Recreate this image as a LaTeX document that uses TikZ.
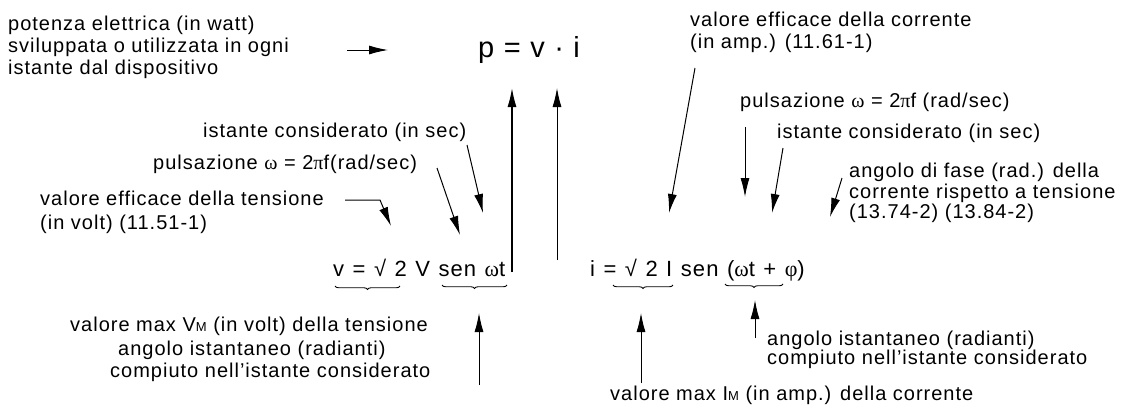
\documentclass[tikz,border=0pt]{standalone}
\usepackage{fontspec}
\setmainfont{Liberation Sans}[LetterSpace=5]
\newfontfamily\gr{Liberation Serif}
\usetikzlibrary{arrows.meta,decorations.pathreplacing}
\newcommand{\widesp}{\spaceskip=8.5pt plus 0pt\relax}
\tikzset{
  lbl/.style={anchor=base west, inner sep=0pt, font=\fontsize{20}{21}\selectfont},
  frm/.style={anchor=base west, inner sep=0pt, font=\fontsize{22}{22}\selectfont},
  arr/.style={-{Latex[length=19pt,width=9pt]}, line width=1pt},
  br/.style={decorate, decoration={brace,mirror,amplitude=3.5pt}, line width=0.9pt},
}
\newcommand{\sm}[1]{{\fontsize{13}{13}\selectfont #1}}
\begin{document}
\begin{tikzpicture}[x=1pt,y=-1pt]
\useasboundingbox (0,0) rectangle (1136,408);
% top left block
\node[lbl] (pot1) at (8,30) {potenza elettrica (in watt)};
\node[lbl] (pot2) at (8,52) {sviluppata o utilizzata in ogni};
\node[lbl] (pot3) at (8,74) {istante dal dispositivo};
\node[frm, font=\fontsize{29}{30}\selectfont] (p) at (478,57) {p = v · i};
\coordinate (pa) at (347,50); \coordinate (pb) at (388,50);
\draw[arr] (pa) -- (pb);
% top right
\node[lbl] (ec1) at (690,26) {valore efficace della corrente};
\node[lbl] (ec2) at (690,48) {(in amp.) (11.61-1)};
% left labels
\node[lbl] (ist1) at (203,137) {istante considerato (in sec)};
\node[lbl] (pul1) at (153,169) {pulsazione {\gr ω} = 2{\gr π}f(rad/sec)};
\node[lbl] (et1) at (40,205) {valore efficace della tensione};
\node[lbl] (et2) at (40,229) {(in volt) (11.51-1)};
% right labels
\node[lbl] (pul2) at (740,107) {pulsazione {\gr ω} = 2{\gr π}f (rad/sec)};
\node[lbl] (ist2) at (777,138) {istante considerato (in sec)};
\node[lbl] (fa1) at (849,177) {angolo di fase (rad.) della};
\node[lbl] (fa2) at (849,198) {corrente rispetto a tensione};
\node[lbl] (fa3) at (849,218) {(13.74-2) (13.84-2)};
% formulas
\node[frm] (fv) at (333,276) {\widesp v = √ 2 V sen {\gr ω}t};
\node[frm] (fi) at (590,276) {\widesp i = √ 2 I sen ({\gr ω}t + {\gr φ})};
% bottom labels
\node[lbl] (vm) at (70,331) {valore max V\sm{M} (in volt) della tensione};
\node[lbl] (an1) at (118,355) {angolo istantaneo (radianti)};
\node[lbl] (an2) at (110,377) {compiuto nell'istante considerato};
\node[lbl] (an3) at (767,345) {angolo istantaneo (radianti)};
\node[lbl] (an4) at (767,364) {compiuto nell'istante considerato};
\node[lbl] (im) at (610,400) {valore max I\sm{M} (in amp.) della corrente};
% braces
\draw[br] (335,286) -- (400,286);
\draw[br] (442,285) -- (507,285);
\draw[br] (613,285) -- (673,285);
\draw[br] (725,284) -- (783,284);
% long arrows to p
\coordinate (l1a) at (512,272); \coordinate (l1b) at (512,88);
\coordinate (l2a) at (557,260); \coordinate (l2b) at (557,88);
\draw[arr, line width=1.4pt] (l1a) -- (l1b);
\draw[arr] (l2a) -- (l2b);
% left arrows
\coordinate (h0) at (345,200); \coordinate (h1) at (380,200); \coordinate (h2) at (391,226);
\draw[arr] (h0) -- (h1) -- (h2);
\coordinate (q0) at (437,168); \coordinate (q1) at (460,235);
\draw[arr] (q0) -- (q1);
\coordinate (s0) at (467,145); \coordinate (s1) at (483,213);
\draw[arr] (s0) -- (s1);
% right arrows
\coordinate (e0) at (695,68); \coordinate (e1) at (669,213);
\draw[arr] (e0) -- (e1);
\coordinate (r0) at (745,127); \coordinate (r1) at (745,197);
\draw[arr] (r0) -- (r1);
\coordinate (t0) at (783,148); \coordinate (t1) at (772,213);
\draw[arr] (t0) -- (t1);
\coordinate (f0) at (842,178); \coordinate (f1) at (830,217);
\draw[arr] (f0) -- (f1);
% bottom arrows
\coordinate (b0) at (479,385); \coordinate (b1) at (479,313);
\draw[arr] (b0) -- (b1);
\coordinate (c0) at (641,383); \coordinate (c1) at (641,313);
\draw[arr] (c0) -- (c1);
\coordinate (d0) at (755,338); \coordinate (d1) at (755,300);
\draw[arr] (d0) -- (d1);
\end{tikzpicture}
\end{document}
